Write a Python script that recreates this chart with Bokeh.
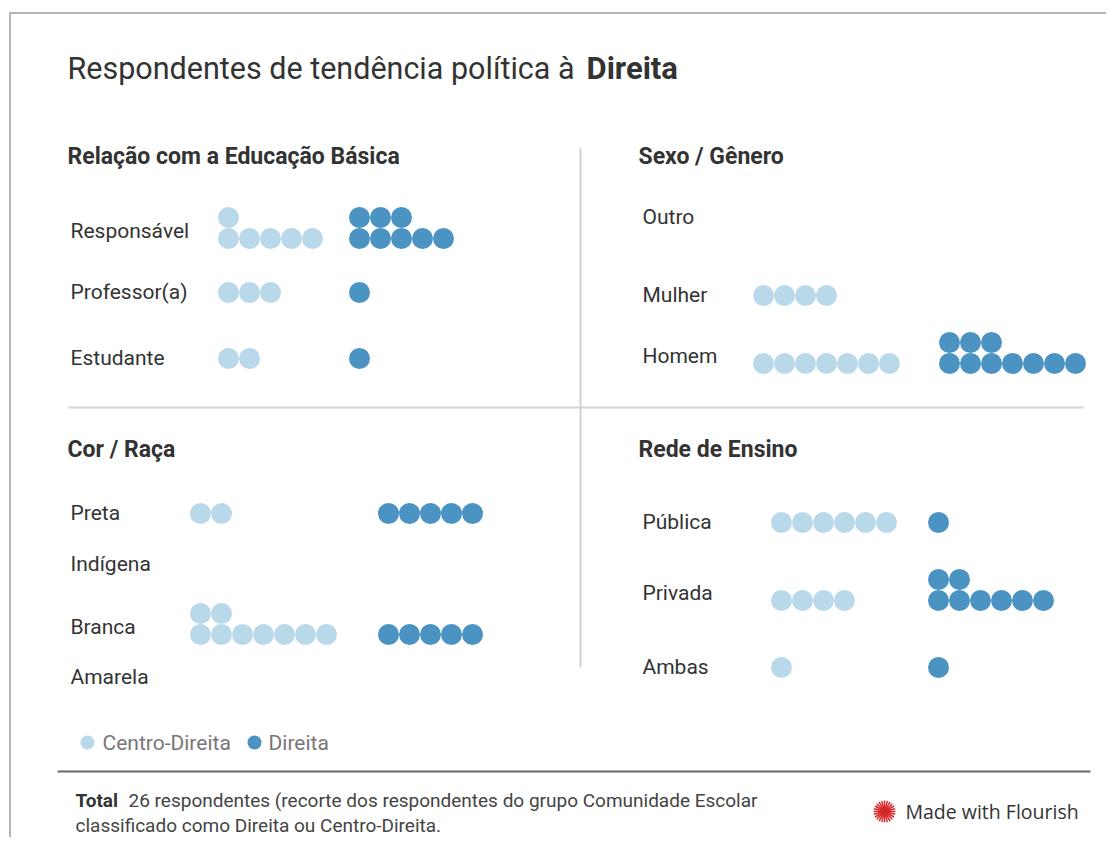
from bokeh.plotting import figure
from bokeh.models import Range1d
from bokeh.embed import file_html
from bokeh.resources import INLINE
from bokeh.core.properties import value

# ---------------- data ----------------
legend_labels = ["Centro-Direita", "Direita"]
panel_titles = ["Relação com a Educação Básica", "Sexo / Gênero", "Cor / Raça", "Rede de Ensino"]

educ_cats = ["Responsável", "Professor(a)", "Estudante"]
educ_centro = [6, 3, 2]
educ_direita = [8, 1, 1]

sexo_cats = ["Outro", "Mulher", "Homem"]
sexo_centro = [0, 4, 7]
sexo_direita = [0, 0, 10]

cor_cats = ["Preta", "Indígena", "Branca", "Amarela"]
cor_centro = [2, 0, 9, 0]
cor_direita = [5, 0, 5, 0]

rede_cats = ["Pública", "Privada", "Ambas"]
rede_centro = [6, 4, 1]
rede_direita = [1, 8, 1]

title_regular = "Respondentes de tendência política à "
title_bold = "Direita"
footer_bold = "Total"
footer_line1 = "26 respondentes (recorte dos respondentes do grupo Comunidade Escolar"
footer_line2 = "classificado como Direita ou Centro-Direita."
credit = "Made with Flourish"

# ---------------- style / layout ----------------
FONT = "Roboto"
LIGHT = "#b9d9eb"
DARK = "#4a93c3"
TXT = "#333333"
DOT = 21  # dot diameter / spacing in px

W, H = 1106, 837

p = figure(width=W, height=H, output_backend="svg", toolbar_location=None,
           x_range=Range1d(0, W), y_range=Range1d(H, 0),
           min_border=0, outline_line_color=None)
p.axis.visible = False
p.grid.visible = False
p.background_fill_color = "white"
p.border_fill_color = "white"

# frame
p.segment(x0=[9, 9.5], y0=[12.5, 12], x1=[W, 9.5], y1=[12.5, H],
          line_color="#b5b5b5", line_width=2)

# title
p.text(x=[67], y=[68], text=[title_regular], text_font=value(FONT), text_font_size="30.5px",
       text_color=TXT, text_baseline="middle")
p.text(x=[586], y=[68], text=[title_bold], text_font=value(FONT), text_font_size="31px",
       text_font_style="bold", text_color=TXT, text_baseline="middle")

panels = [
    dict(cats=educ_cats, c=educ_centro, d=educ_direita, wrap=5, tx=67, ty=156,
         lx=70, cx=228, dx=359, rows=[238, 292, 358]),
    dict(cats=sexo_cats, c=sexo_centro, d=sexo_direita, wrap=7, tx=638, ty=156,
         lx=642, cx=763, dx=949, rows=[217, 295, 363]),
    dict(cats=cor_cats, c=cor_centro, d=cor_direita, wrap=7, tx=67, ty=449,
         lx=70, cx=200, dx=388, rows=[513, 564, 634, 677]),
    dict(cats=rede_cats, c=rede_centro, d=rede_direita, wrap=6, tx=638, ty=449,
         lx=642, cx=781, dx=938, rows=[522, 600, 667]),
]

for title, pn in zip(panel_titles, panels):
    p.text(x=[pn["tx"]], y=[pn["ty"]], text=[title], text_font=value(FONT),
           text_font_size="23px", text_font_style="bold", text_color=TXT,
           text_baseline="middle")
    lxs, lys = [], []
    for series, x0, color in ((pn["c"], pn["cx"], LIGHT), (pn["d"], pn["dx"], DARK)):
        xs, ys = [], []
        for i, n in enumerate(series):
            for k in range(n):
                xs.append(x0 + (k % pn["wrap"]) * DOT)
                ys.append(pn["rows"][i] - (k // pn["wrap"]) * DOT)
        p.scatter(x=xs, y=ys, size=DOT, fill_color=color, line_color=None)
    for i, cat in enumerate(pn["cats"]):
        nrows = max(1, -(-pn["c"][i] // pn["wrap"]), -(-pn["d"][i] // pn["wrap"]))
        lxs.append(pn["lx"])
        lys.append(pn["rows"][i] - 1 - 7 * (nrows - 1))
    p.text(x=lxs, y=lys, text=pn["cats"], text_font=value(FONT), text_font_size="21px",
           text_color=TXT, text_baseline="middle")

# dividers
p.segment(x0=[580, 68], y0=[147, 407], x1=[580, 1083], y1=[667, 407],
          line_color="#d2d2d2", line_width=2)

# legend
p.scatter(x=[87, 254], y=[742, 742], size=14, fill_color=[LIGHT, DARK], line_color=None)
p.text(x=[102, 268], y=[742, 742], text=legend_labels, text_font=value(FONT),
       text_font_size="21px", text_color="#777777", text_baseline="middle")

# footer
p.segment(x0=[57], y0=[771], x1=[1090], y1=[771], line_color="#666666", line_width=2)
p.text(x=[75], y=[800], text=[footer_bold], text_font=value(FONT), text_font_size="19px",
       text_font_style="bold", text_color=TXT, text_baseline="middle")
p.text(x=[128, 75], y=[800, 825], text=[footer_line1, footer_line2], text_font=value(FONT),
       text_font_size="19px", text_color="#444444", text_baseline="middle")

# credit logo
angles = [k * 3.14159 / 12 for k in range(12)]
p.scatter(x=[884] * 12, y=[811] * 12, marker="dash", size=22, angle=angles,
          line_color="#d62728", line_width=1.5)
p.scatter(x=[884], y=[811], size=9, fill_color="#d62728", line_color=None)
p.text(x=[905], y=[811], text=[credit], text_font=value("Open Sans"), text_font_size="19.5px",
       text_color="#333333", text_baseline="middle")

open("out.html", "w").write(file_html(p, INLINE))
